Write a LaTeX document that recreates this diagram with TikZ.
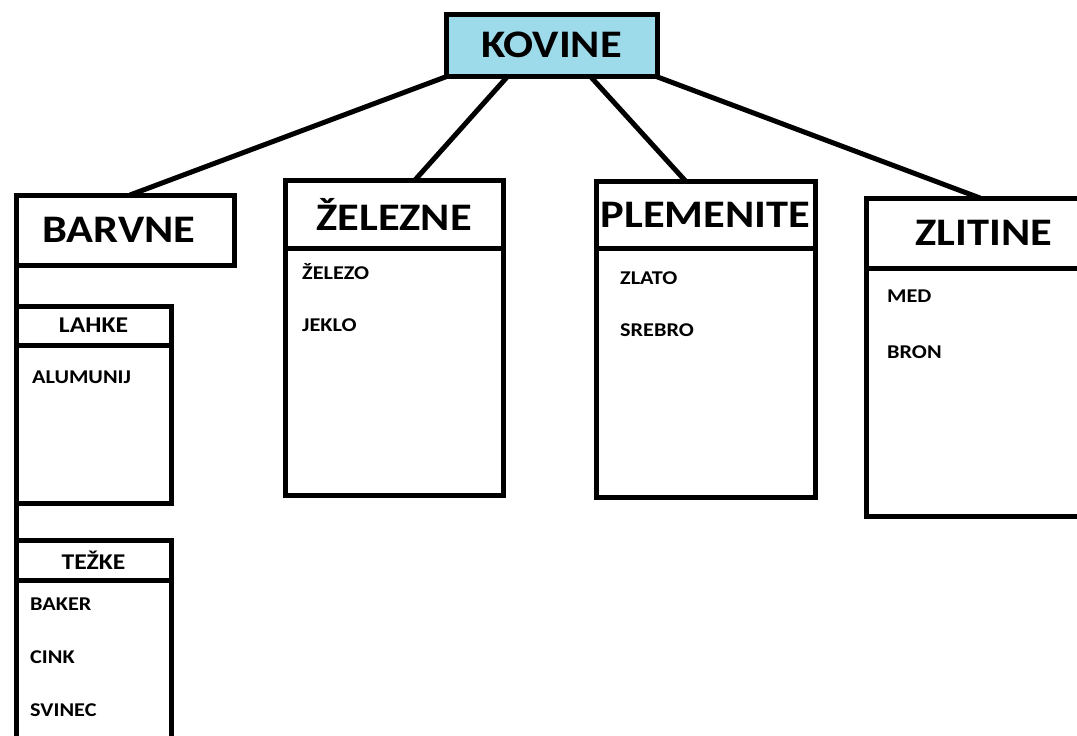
\documentclass[tikz,border=0pt]{standalone}
\usepackage{fontspec}
\setmainfont{Carlito}[FakeStretch=1.14]
\usetikzlibrary{calc}
\definecolor{kovblue}{HTML}{9DDAEA}
\begin{document}
\begin{tikzpicture}[x=1pt,y=-1pt,
 box/.style={draw=black, line width=5pt, rectangle, inner sep=0pt, outer sep=0pt, anchor=north west},
 big/.style={font=\fontsize{39}{42}\selectfont\bfseries},
 mid/.style={font=\fontsize{22.5}{24}\selectfont\bfseries},
 item/.style={font=\fontsize{19.5}{21}\selectfont\bfseries, anchor=west, inner sep=0pt},
 conn/.style={draw=black, line width=5pt},
]
\useasboundingbox (0,0) rectangle (1077,736);
% top
\node[box, fill=kovblue, big, minimum width=211pt, minimum height=62pt] (kov) at (446,14) {KOVINE};
% BARVNE
\node[box, big, minimum width=218pt, minimum height=70pt] (barv) at (16,195) {\hspace*{-12pt}BARVNE};
\node[box, mid, minimum width=155pt, minimum height=39pt] (lahh) at (16,306) {LAHKE};
\node[box, minimum width=155pt, minimum height=158pt] (lahb) at (16,345) {};
\node[item] (alu) at (32,377) {ALUMUNIJ};
\node[box, mid, minimum width=155pt, minimum height=40pt] (tezh) at (16,540) {TEŽKE};
\node[box, minimum width=155pt, minimum height=175pt] (tezb) at (16,580) {};
\node[item] (bak) at (30,604) {BAKER};
\node[item] (cink) at (30,657) {CINK};
\node[item] (svi) at (30,710) {SVINEC};
\coordinate (vend) at (16,750);
\draw[conn] (barv.south west) -- (barv.south west |- vend);
% ZELEZNE
\node[box, big, minimum width=218pt, minimum height=68pt] (zelh) at (285,180) {ŽELEZNE};
\node[box, minimum width=218pt, minimum height=247pt] (zelb) at (285,248) {};
\node[item] (zel1) at (302,272) {ŽELEZO};
\node[item] (zel2) at (302,325) {JEKLO};
% PLEMENITE
\node[box, big, minimum width=219pt, minimum height=67pt] (pleh) at (596,181) {PLEMENITE};
\node[box, minimum width=219pt, minimum height=249pt] (pleb) at (596,248) {};
\node[item] (ple1) at (620,278) {ZLATO};
\node[item] (ple2) at (620,330) {SREBRO};
% ZLITINE
\node[box, big, minimum width=236pt, minimum height=70pt] (zlih) at (866,198) {ZLITINE};
\node[box, minimum width=236pt, minimum height=248pt] (zlib) at (866,268) {};
\node[item] (zli1) at (887,296) {MED};
\node[item] (zli2) at (887,352) {BRON};
% connectors
\draw[conn] ($(kov.south west)+(2,0)$) -- ($(barv.north)+(5,0)$);
\draw[conn] ($(kov.south west)+(62,0)$) -- ($(zelh.north)+(21,0)$);
\draw[conn] ($(kov.south west)+(144,0)$) -- ($(pleh.north)+(-20,0)$);
\draw[conn] ($(kov.south east)+(-2,0)$) -- ($(zlih.north)+(-4,0)$);
\end{tikzpicture}
\end{document}
